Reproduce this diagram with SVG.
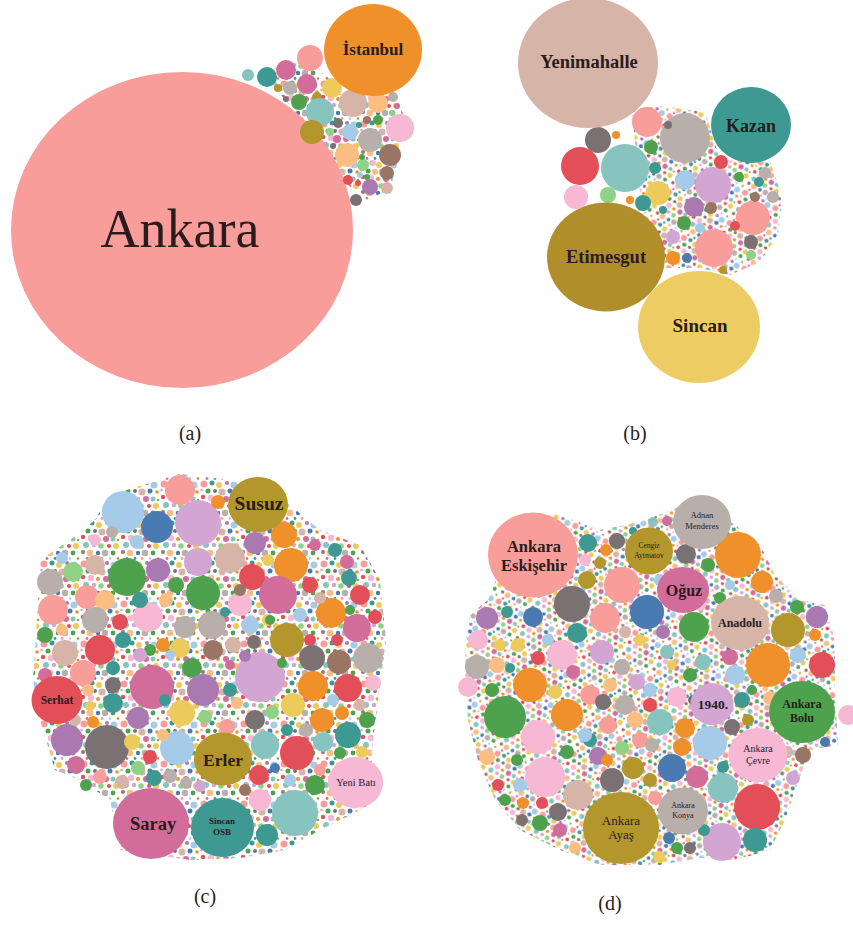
<svg xmlns="http://www.w3.org/2000/svg" width="853" height="925" viewBox="0 0 853 925" font-family="'Liberation Serif', 'Times New Roman', serif">
<style>
text{font-family:"Liberation Serif","Times New Roman",serif;fill:#2a1c1c;text-anchor:middle}
.b{font-weight:bold}
.pk{fill:#f99d9b}.or{fill:#f0902a}.te{fill:#3e9992}.tl{fill:#87c4c0}.ol{fill:#b3972c}.ye{fill:#eccb5c}
.ta{fill:#d6b5a8}.gr{fill:#b8afab}.dg{fill:#7a7272}.re{fill:#e34f59}.li{fill:#d3a5d3}.pu{fill:#ab79b1}
.ma{fill:#d26d9b}.pl{fill:#f7b8d3}.lb{fill:#a6cbe8}.bl{fill:#4a7ab2}.gn{fill:#4fa24d}.lg{fill:#90d285}
.pe{fill:#fcbd82}.br{fill:#9a7563}
.lab{font-size:20px}
</style>
<defs>
<pattern id="dots" width="40" height="40" patternUnits="userSpaceOnUse">
<circle cx="4" cy="4" r="3.5" class="pk"/><circle cx="12" cy="3" r="2.5" class="te"/><circle cx="19" cy="5" r="3" class="ye"/>
<circle cx="27" cy="3" r="2" class="pu"/><circle cx="34" cy="5" r="3.5" class="lb"/><circle cx="8" cy="11" r="2.5" class="gn"/>
<circle cx="15" cy="11" r="2" class="dg"/><circle cx="22" cy="12" r="3.5" class="ta"/><circle cx="30" cy="11" r="2.5" class="bl"/>
<circle cx="37" cy="12" r="1.8" class="or"/><circle cx="3" cy="17" r="2.2" class="re"/><circle cx="11" cy="18" r="3.2" class="pl"/>
<circle cx="18" cy="19" r="2" class="or"/><circle cx="26" cy="19" r="3" class="ma"/><circle cx="33" cy="19" r="2.5" class="tl"/>
<circle cx="6" cy="25" r="3" class="tl"/><circle cx="14" cy="25" r="2.2" class="li"/><circle cx="21" cy="26" r="2.8" class="lg"/>
<circle cx="29" cy="26" r="2" class="re"/><circle cx="36" cy="26" r="3" class="ye"/><circle cx="3" cy="32" r="2" class="br"/>
<circle cx="10" cy="33" r="3.3" class="pe"/><circle cx="18" cy="33" r="2.2" class="bl"/><circle cx="25" cy="33" r="3.2" class="gr"/>
<circle cx="33" cy="33" r="2.4" class="gn"/><circle cx="7" cy="38.5" r="1.4" class="ma"/><circle cx="15" cy="38.5" r="1.4" class="te"/>
<circle cx="22" cy="38.5" r="1.4" class="pk"/><circle cx="30" cy="38.5" r="1.3" class="lb"/><circle cx="38" cy="38.5" r="1.3" class="ol"/>
<circle cx="38" cy="20" r="1.3" class="ol"/><circle cx="1.5" cy="10" r="1.3" class="li"/>
</pattern>
<pattern id="dots2" href="#dots" patternTransform="rotate(27) scale(0.85)"/>
</defs>
<rect width="853" height="925" fill="#ffffff"/>

<!-- Panel (a) -->
<g id="panel-a">
<path d="M262,72 L300,60 L330,78 L342,96 L395,96 L405,118 L398,160 L390,190 L365,200 L345,182 L320,140 L292,108 Z" fill="url(#dots)"/>
<g id="ankara"><ellipse cx="182" cy="230" rx="171" ry="158" class="pk"/><text x="180" y="247" style="font-size:54px">Ankara</text></g>
<g id="bubbles-a">
<circle cx="248" cy="75" r="6" class="tl"/><circle cx="267" cy="77" r="10" class="te"/><circle cx="286" cy="70" r="10" class="ma"/>
<circle cx="310" cy="58" r="13" class="pk"/><circle cx="290" cy="88" r="7" class="gr"/><circle cx="307" cy="84" r="10" class="ma"/>
<circle cx="332" cy="88" r="10" class="ye"/><circle cx="299" cy="102" r="8" class="gn"/><circle cx="317" cy="97" r="5" class="ol"/>
<circle cx="278" cy="88" r="4" class="ol"/><circle cx="286" cy="99" r="3" class="dg"/><circle cx="353" cy="103" r="14" class="ta"/>
<circle cx="378" cy="103" r="10" class="pe"/><circle cx="393" cy="97" r="5" class="gr"/><circle cx="397" cy="106" r="3" class="ma"/>
<circle cx="320" cy="112" r="14" class="tl"/><circle cx="392" cy="113" r="3" class="lg"/><circle cx="367" cy="120" r="4" class="br"/>
<circle cx="378" cy="120" r="5" class="gn"/><circle cx="400" cy="128" r="14" class="pl"/><circle cx="312" cy="132" r="12" class="ol"/>
<circle cx="338" cy="123" r="5" class="dg"/><circle cx="350" cy="132" r="8" class="lb"/><circle cx="359" cy="125" r="3" class="te"/>
<circle cx="330" cy="132" r="4" class="lg"/><circle cx="337" cy="139" r="4" class="ma"/><circle cx="370" cy="140" r="12" class="gr"/>
<circle cx="333" cy="146" r="3" class="dg"/><circle cx="347" cy="155" r="12" class="pe"/><circle cx="390" cy="155" r="11" class="br"/>
<circle cx="363" cy="165" r="6" class="lg"/><circle cx="375" cy="172" r="3" class="pe"/><circle cx="387" cy="173" r="7" class="br"/>
<circle cx="348" cy="180" r="5" class="re"/><circle cx="358" cy="183" r="3" class="re"/><circle cx="370" cy="187" r="8" class="pu"/>
<circle cx="387" cy="188" r="6" class="ta"/><circle cx="356" cy="200" r="6" class="dg"/><circle cx="360" cy="175" r="3" class="lb"/>
<circle cx="367" cy="177" r="3" class="gn"/><circle cx="373" cy="163" r="3" class="pl"/><circle cx="362" cy="157" r="3" class="gn"/>
</g>
<g id="istanbul"><ellipse cx="373" cy="50" rx="49" ry="46" class="or"/><text x="373" y="55" class="b" style="font-size:17px">İstanbul</text></g>
<text x="190" y="440" class="lab">(a)</text>
</g>

<!-- Panel (b) -->
<g id="panel-b">
<path d="M632,110 L660,106 L705,112 L720,160 L770,162 L782,195 L778,235 L760,262 L730,275 L700,268 L665,268 L640,258 L632,225 L640,195 Z" fill="url(#dots2)"/>
<g id="bubbles-b">
<circle cx="647" cy="122" r="15" class="pk"/><circle cx="685" cy="138" r="25" class="gr"/><circle cx="598" cy="140" r="13" class="dg"/>
<circle cx="580" cy="166" r="19" class="re"/><circle cx="625" cy="168" r="24" class="tl"/><circle cx="576" cy="197" r="12" class="pl"/>
<circle cx="608" cy="195" r="8" class="lg"/><circle cx="651" cy="147" r="7" class="gn"/><circle cx="658" cy="193" r="12" class="ye"/>
<circle cx="643" cy="203" r="8" class="te"/><circle cx="630" cy="200" r="4" class="or"/><circle cx="685" cy="180" r="10" class="lb"/>
<circle cx="713" cy="185" r="18" class="li"/><circle cx="721" cy="162" r="7" class="re"/><circle cx="694" cy="207" r="10" class="pu"/>
<circle cx="711" cy="208" r="6" class="br"/><circle cx="753" cy="218" r="17" class="pk"/><circle cx="765" cy="173" r="6" class="gr"/>
<circle cx="773" cy="197" r="6" class="gr"/><circle cx="684" cy="223" r="7" class="gn"/><circle cx="673" cy="237" r="7" class="li"/>
<circle cx="714" cy="248" r="19" class="pk"/><circle cx="751" cy="242" r="7" class="dg"/><circle cx="673" cy="258" r="7" class="or"/>
<circle cx="687" cy="258" r="5" class="bl"/><circle cx="751" cy="255" r="5" class="lg"/><circle cx="723" cy="270" r="4" class="ol"/>
<circle cx="655" cy="168" r="6" class="te"/><circle cx="755" cy="197" r="5" class="br"/><circle cx="739" cy="177" r="5" class="gn"/>
<circle cx="759" cy="182" r="5" class="te"/><circle cx="663" cy="210" r="4" class="te"/><circle cx="668" cy="125" r="4" class="dg"/>
<circle cx="616" cy="135" r="4" class="or"/><circle cx="700" cy="228" r="5" class="lb"/><circle cx="735" cy="226" r="5" class="re"/>
</g>
<g id="yenimahalle"><ellipse cx="588" cy="63" rx="70" ry="65" class="ta"/><text x="589" y="68" class="b" style="font-size:18.5px">Yenimahalle</text></g>
<g id="kazan"><ellipse cx="751" cy="125" rx="40" ry="38" class="te"/><text x="751" y="132" class="b" style="font-size:18px">Kazan</text></g>
<g id="etimesgut"><ellipse cx="606" cy="257" rx="59" ry="54.5" fill="#b08f2b"/><text x="606" y="263" class="b" style="font-size:18.5px">Etimesgut</text></g>
<g id="sincan"><ellipse cx="699" cy="327" rx="61" ry="56" fill="#edcd63"/><text x="700" y="332" class="b" style="font-size:19px">Sincan</text></g>
<text x="635" y="440" class="lab">(b)</text>
</g>

<!-- Panel (c) -->
<g id="panel-c">
<path d="M110,495 L180,474 L230,480 L290,505 L320,530 L360,545 L380,580 L386,640 L378,700 L372,750 L370,805 L320,830 L285,850 L240,858 L190,860 L120,850 L110,800 L80,780 L55,770 L40,720 L33,680 L37,620 L40,560 L70,540 L95,520 Z" fill="url(#dots)"/>
<g id="bubbles-c">
<circle cx="180" cy="490" r="15" class="pk"/><circle cx="123" cy="512" r="21" class="lb"/><circle cx="157" cy="527" r="16" class="bl"/>
<circle cx="198" cy="523" r="23" class="li"/><circle cx="218" cy="502" r="7" class="or"/><circle cx="284" cy="535" r="13" class="or"/>
<circle cx="255" cy="543" r="11" class="pu"/><circle cx="137" cy="542" r="7" class="lb"/><circle cx="198" cy="562" r="14" class="li"/>
<circle cx="230" cy="558" r="15" class="ta"/><circle cx="291" cy="565" r="17" class="or"/><circle cx="50" cy="582" r="13" class="gr"/>
<circle cx="73" cy="572" r="10" class="lg"/><circle cx="95" cy="565" r="10" class="ta"/><circle cx="127" cy="577" r="19" class="gn"/>
<circle cx="158" cy="570" r="12" class="pu"/><circle cx="252" cy="577" r="13" class="re"/><circle cx="203" cy="593" r="17" class="gn"/>
<circle cx="176" cy="585" r="8" class="gn"/><circle cx="278" cy="595" r="19" class="ma"/><circle cx="335" cy="550" r="7" class="te"/>
<circle cx="347" cy="562" r="7" class="ma"/><circle cx="349" cy="578" r="8" class="te"/><circle cx="360" cy="595" r="10" class="re"/>
<circle cx="310" cy="585" r="8" class="re"/><circle cx="53" cy="610" r="15" class="pk"/><circle cx="87" cy="597" r="12" class="pk"/>
<circle cx="105" cy="600" r="10" class="pe"/><circle cx="148" cy="617" r="15" class="pl"/><circle cx="240" cy="604" r="12" class="pl"/>
<circle cx="95" cy="620" r="13" class="gr"/><circle cx="120" cy="622" r="8" class="re"/><circle cx="185" cy="627" r="11" class="gr"/>
<circle cx="212" cy="625" r="14" class="gr"/><circle cx="250" cy="625" r="9" class="lb"/><circle cx="331" cy="613" r="15" class="or"/>
<circle cx="357" cy="628" r="14" class="ma"/><circle cx="375" cy="617" r="7" class="re"/><circle cx="100" cy="650" r="15" class="re"/>
<circle cx="123" cy="640" r="8" class="te"/><circle cx="65" cy="653" r="13" class="ta"/><circle cx="180" cy="648" r="10" class="ye"/>
<circle cx="213" cy="650" r="10" class="br"/><circle cx="233" cy="645" r="8" class="ta"/><circle cx="287" cy="640" r="17" class="ol"/>
<circle cx="254" cy="642" r="7" class="dg"/><circle cx="310" cy="640" r="6" class="re"/><circle cx="337" cy="640" r="6" class="re"/>
<circle cx="312" cy="658" r="13" class="dg"/><circle cx="339" cy="662" r="12" class="br"/><circle cx="368" cy="658" r="15" class="gr"/>
<circle cx="192" cy="668" r="10" class="gn"/><circle cx="113" cy="668" r="7" class="te"/><circle cx="83" cy="673" r="13" class="pk"/>
<circle cx="152" cy="687" r="22" class="ma"/><circle cx="203" cy="690" r="16" class="pu"/><circle cx="260" cy="677" r="25" class="li"/>
<circle cx="313" cy="686" r="15" class="or"/><circle cx="348" cy="688" r="14" class="re"/><circle cx="373" cy="683" r="8" class="pl"/>
<circle cx="113" cy="685" r="8" class="dg"/><circle cx="113" cy="703" r="10" class="te"/><circle cx="138" cy="718" r="11" class="pu"/>
<circle cx="182" cy="713" r="13" class="ye"/><circle cx="255" cy="720" r="10" class="dg"/><circle cx="272" cy="712" r="7" class="lg"/>
<circle cx="293" cy="705" r="12" class="ye"/><circle cx="322" cy="720" r="12" class="or"/><circle cx="342" cy="713" r="7" class="or"/>
<circle cx="348" cy="735" r="13" class="te"/><circle cx="367" cy="720" r="8" class="gn"/><circle cx="67" cy="740" r="16" class="pu"/>
<circle cx="107" cy="747" r="22" class="dg"/><circle cx="76" cy="765" r="9" class="ma"/><circle cx="177" cy="748" r="17" class="lb"/>
<circle cx="265" cy="745" r="14" class="tl"/><circle cx="297" cy="753" r="17" class="re"/><circle cx="323" cy="742" r="10" class="tl"/>
<circle cx="340" cy="753" r="6" class="gn"/><circle cx="259" cy="775" r="10" class="re"/><circle cx="275" cy="768" r="5" class="bl"/>
<circle cx="315" cy="785" r="10" class="gn"/><circle cx="154" cy="778" r="8" class="te"/><circle cx="122" cy="782" r="7" class="ta"/>
<circle cx="260" cy="800" r="11" class="pl"/><circle cx="245" cy="790" r="6" class="br"/><circle cx="295" cy="813" r="23" class="tl"/>
<circle cx="267" cy="835" r="11" class="te"/><circle cx="138" cy="768" r="7" class="lg"/><circle cx="170" cy="776" r="7" class="gr"/>
<circle cx="186" cy="783" r="6" class="gr"/><circle cx="200" cy="786" r="6" class="li"/><circle cx="290" cy="780" r="6" class="lb"/>
<circle cx="93" cy="722" r="6" class="or"/><circle cx="90" cy="706" r="5" class="ye"/><circle cx="163" cy="735" r="6" class="pe"/>
<circle cx="287" cy="730" r="6" class="te"/><circle cx="306" cy="730" r="7" class="gr"/><circle cx="237" cy="703" r="6" class="pe"/>
<circle cx="170" cy="655" r="5" class="lb"/><circle cx="225" cy="612" r="5" class="te"/><circle cx="268" cy="620" r="6" class="ye"/>
<circle cx="150" cy="650" r="6" class="gn"/><circle cx="230" cy="665" r="5" class="ma"/><circle cx="320" cy="598" r="6" class="ta"/>
<circle cx="45" cy="635" r="8" class="gn"/><circle cx="62" cy="630" r="6" class="pe"/><circle cx="88" cy="690" r="6" class="pe"/>
<circle cx="140" cy="600" r="8" class="te"/><circle cx="166" cy="600" r="7" class="pe"/><circle cx="163" cy="645" r="7" class="or"/>
<circle cx="230" cy="690" r="7" class="te"/><circle cx="227" cy="727" r="8" class="pk"/><circle cx="205" cy="717" r="7" class="lg"/>
<circle cx="132" cy="742" r="8" class="ye"/><circle cx="150" cy="757" r="7" class="re"/><circle cx="86" cy="785" r="6" class="gn"/>
<circle cx="100" cy="777" r="7" class="pk"/><circle cx="130" cy="800" r="6" class="lb"/><circle cx="300" cy="615" r="7" class="lb"/>
<circle cx="270" cy="620" r="5" class="gn"/><circle cx="333" cy="700" r="6" class="lb"/><circle cx="360" cy="705" r="6" class="ta"/>
<circle cx="350" cy="610" r="5" class="gn"/><circle cx="75" cy="720" r="6" class="ta"/><circle cx="320" cy="770" r="6" class="pk"/>
<circle cx="362" cy="752" r="6" class="ye"/><circle cx="240" cy="590" r="6" class="br"/><circle cx="268" cy="560" r="6" class="ye"/>
<circle cx="315" cy="545" r="6" class="ma"/><circle cx="112" cy="532" r="6" class="gr"/><circle cx="95" cy="540" r="6" class="pl"/>
<circle cx="62" cy="558" r="6" class="lb"/><circle cx="140" cy="655" r="7" class="li"/><circle cx="245" cy="656" r="6" class="pu"/>
<circle cx="165" cy="700" r="6" class="te"/><circle cx="282" cy="663" r="5" class="gn"/><circle cx="45" cy="675" r="7" class="ma"/>
</g>
<g id="susuz"><ellipse cx="258" cy="504.5" rx="30" ry="27.5" class="ol"/><text x="259" y="510" class="b" style="font-size:19.5px">Susuz</text></g>
<g id="serhat"><ellipse cx="57" cy="700" rx="25.5" ry="24" class="re"/><text x="57" y="704" class="b" style="font-size:11.5px">Serhat</text></g>
<g id="erler"><ellipse cx="223" cy="759" rx="29" ry="26.5" class="ol"/><text x="223" y="766" class="b" style="font-size:17.5px">Erler</text></g>
<g id="yeni-bati"><ellipse cx="355.5" cy="782.5" rx="27.5" ry="25.5" class="pl"/><text x="356" y="786" style="font-size:10.5px">Yeni Batı</text></g>
<g id="saray"><ellipse cx="151" cy="823.5" rx="38" ry="35.5" class="ma"/><text x="153" y="830" class="b" style="font-size:18.5px">Saray</text></g>
<g id="sincan-osb"><ellipse cx="222.5" cy="827.5" rx="31.5" ry="29.5" class="te"/><text x="222" y="824" class="b" style="font-size:9px">Sincan</text><text x="222" y="835" class="b" style="font-size:9px">OSB</text></g>
<text x="205" y="903" class="lab">(c)</text>
</g>

<!-- Panel (d) -->
<g id="panel-d">
<path d="M470,615 L488,600 L500,570 L520,515 L560,515 L600,530 L640,522 L672,510 L700,495 L735,525 L760,545 L775,575 L800,600 L825,605 L835,640 L835,690 L838,745 L810,750 L795,790 L785,820 L770,850 L735,860 L700,858 L660,865 L600,865 L560,850 L520,830 L495,800 L478,760 L468,720 L465,680 L466,640 Z" fill="url(#dots2)"/>
<g id="bubbles-d">
<circle cx="738" cy="555" r="23" class="or"/><circle cx="762" cy="582" r="11" class="or"/><circle cx="686" cy="554" r="10" class="dg"/>
<circle cx="588" cy="543" r="9" class="te"/><circle cx="617" cy="541" r="8" class="dg"/><circle cx="572" cy="604" r="18" class="dg"/>
<circle cx="622" cy="585" r="18" class="pk"/><circle cx="605" cy="618" r="15" class="pk"/><circle cx="647" cy="612" r="17" class="bl"/>
<circle cx="587" cy="580" r="9" class="ol"/><circle cx="694" cy="627" r="15" class="gn"/><circle cx="788" cy="630" r="17" class="ol"/>
<circle cx="817" cy="617" r="11" class="pu"/><circle cx="708" cy="565" r="7" class="gn"/><circle cx="776" cy="596" r="7" class="gr"/>
<circle cx="797" cy="607" r="7" class="gn"/><circle cx="487" cy="618" r="11" class="pu"/><circle cx="533" cy="617" r="10" class="bl"/>
<circle cx="577" cy="633" r="10" class="te"/><circle cx="478" cy="640" r="10" class="pl"/><circle cx="477" cy="667" r="12" class="gr"/>
<circle cx="562" cy="655" r="15" class="pl"/><circle cx="602" cy="652" r="12" class="li"/><circle cx="768" cy="665" r="22" class="or"/>
<circle cx="822" cy="665" r="13" class="re"/><circle cx="653" cy="522" r="5" class="tl"/><circle cx="667" cy="521" r="5" class="ma"/>
<circle cx="633" cy="531" r="4" class="te"/><circle cx="730" cy="585" r="5" class="lb"/><circle cx="507" cy="612" r="6" class="te"/>
<circle cx="600" cy="563" r="6" class="ol"/><circle cx="500" cy="645" r="6" class="ye"/><circle cx="518" cy="645" r="7" class="ye"/>
<circle cx="538" cy="658" r="7" class="re"/><circle cx="667" cy="652" r="7" class="tl"/><circle cx="703" cy="662" r="8" class="tl"/>
<circle cx="730" cy="657" r="8" class="ma"/><circle cx="798" cy="655" r="8" class="lb"/><circle cx="815" cy="635" r="6" class="or"/>
<circle cx="468" cy="687" r="10" class="pl"/><circle cx="573" cy="672" r="7" class="ma"/><circle cx="622" cy="667" r="8" class="gr"/>
<circle cx="735" cy="675" r="10" class="lb"/><circle cx="690" cy="675" r="7" class="gn"/><circle cx="590" cy="695" r="10" class="pk"/>
<circle cx="677" cy="697" r="10" class="pl"/><circle cx="603" cy="702" r="8" class="dg"/><circle cx="625" cy="705" r="10" class="gr"/>
<circle cx="530" cy="685" r="17" class="or"/><circle cx="505" cy="717" r="21" class="gn"/><circle cx="567" cy="715" r="16" class="or"/>
<circle cx="538" cy="737" r="17" class="pl"/><circle cx="848" cy="715" r="10" class="pl"/><circle cx="710" cy="743" r="17" class="lb"/>
<circle cx="660" cy="722" r="13" class="tl"/><circle cx="685" cy="728" r="10" class="or"/><circle cx="682" cy="747" r="9" class="or"/>
<circle cx="732" cy="727" r="8" class="dg"/><circle cx="545" cy="777" r="20" class="pl"/><circle cx="672" cy="768" r="14" class="bl"/>
<circle cx="697" cy="777" r="11" class="ma"/><circle cx="633" cy="768" r="11" class="ol"/><circle cx="612" cy="780" r="12" class="dg"/>
<circle cx="650" cy="780" r="7" class="ol"/><circle cx="723" cy="788" r="15" class="tl"/><circle cx="578" cy="795" r="15" class="ta"/>
<circle cx="757" cy="807" r="23" class="re"/><circle cx="722" cy="842" r="19" class="li"/><circle cx="755" cy="840" r="12" class="te"/>
<circle cx="558" cy="812" r="9" class="dg"/><circle cx="542" cy="803" r="6" class="re"/><circle cx="540" cy="823" r="8" class="gn"/>
<circle cx="560" cy="830" r="7" class="ma"/><circle cx="487" cy="757" r="8" class="pe"/><circle cx="523" cy="803" r="6" class="or"/>
<circle cx="659" cy="857" r="6" class="ye"/><circle cx="517" cy="760" r="6" class="gn"/><circle cx="723" cy="767" r="6" class="te"/>
<circle cx="690" cy="848" r="6" class="dg"/><circle cx="677" cy="848" r="6" class="gn"/><circle cx="669" cy="838" r="6" class="bl"/>
<circle cx="803" cy="755" r="8" class="br"/><circle cx="825" cy="742" r="5" class="bl"/><circle cx="793" cy="778" r="7" class="li"/>
<circle cx="650" cy="690" r="7" class="lb"/><circle cx="640" cy="740" r="8" class="pk"/><circle cx="590" cy="740" r="7" class="te"/>
<circle cx="498" cy="785" r="6" class="re"/><circle cx="510" cy="668" r="5" class="te"/><circle cx="640" cy="640" r="6" class="ye"/>
<circle cx="497" cy="665" r="8" class="pe"/><circle cx="548" cy="640" r="6" class="lb"/><circle cx="492" cy="690" r="7" class="gn"/>
<circle cx="555" cy="692" r="7" class="ye"/><circle cx="610" cy="685" r="7" class="pe"/><circle cx="637" cy="682" r="8" class="li"/>
<circle cx="650" cy="705" r="7" class="re"/><circle cx="635" cy="720" r="8" class="pe"/><circle cx="608" cy="725" r="9" class="pk"/>
<circle cx="585" cy="735" r="7" class="lb"/><circle cx="598" cy="756" r="9" class="pu"/><circle cx="567" cy="752" r="7" class="gn"/>
<circle cx="520" cy="785" r="7" class="lb"/><circle cx="505" cy="800" r="6" class="gn"/><circle cx="522" cy="820" r="6" class="dg"/>
<circle cx="595" cy="845" r="7" class="lb"/><circle cx="575" cy="848" r="6" class="pe"/><circle cx="700" cy="800" r="6" class="pe"/>
<circle cx="704" cy="830" r="6" class="te"/><circle cx="742" cy="700" r="8" class="te"/><circle cx="770" cy="698" r="7" class="pe"/>
<circle cx="748" cy="720" r="6" class="ol"/><circle cx="787" cy="752" r="6" class="ta"/>
<circle cx="652" cy="745" r="7" class="gr"/><circle cx="622" cy="748" r="7" class="lg"/><circle cx="607" cy="760" r="6" class="or"/>
<circle cx="655" cy="798" r="7" class="pk"/><circle cx="693" cy="700" r="5" class="dg"/><circle cx="700" cy="605" r="6" class="pl"/>
<circle cx="720" cy="598" r="6" class="gn"/><circle cx="606" cy="550" r="6" class="or"/><circle cx="660" cy="580" r="6" class="lb"/>
<circle cx="663" cy="632" r="7" class="pu"/><circle cx="625" cy="632" r="6" class="ta"/><circle cx="560" cy="572" r="6" class="pe"/>
<circle cx="585" cy="560" r="6" class="pl"/><circle cx="672" cy="665" r="5" class="ye"/><circle cx="752" cy="690" r="5" class="gn"/>
</g>
<g id="ankara-eskisehir"><ellipse cx="533" cy="555" rx="45" ry="42.5" class="pk"/><text x="534" y="552" class="b" style="font-size:16.5px">Ankara</text><text x="534" y="571" class="b" style="font-size:16.5px">Eskişehir</text></g>
<g id="adnan-menderes"><ellipse cx="702" cy="522" rx="29" ry="27" class="gr"/><text x="702" y="518" style="font-size:8.5px">Adnan</text><text x="702" y="529" style="font-size:8.5px">Menderes</text></g>
<g id="cengiz-aytmatov"><ellipse cx="649" cy="551" rx="24" ry="23.5" class="ol"/><text x="649" y="548" style="font-size:7.5px">Cengiz</text><text x="649" y="558" style="font-size:7.5px">Aytmatov</text></g>
<g id="oguz"><ellipse cx="683" cy="590" rx="26" ry="23" class="ma"/><text x="684" y="596" class="b" style="font-size:16px">Oğuz</text></g>
<g id="anadolu"><ellipse cx="740" cy="623" rx="29" ry="27" class="ta"/><text x="740" y="627" class="b" style="font-size:12px">Anadolu</text></g>
<g id="y1940"><ellipse cx="712" cy="704" rx="21.5" ry="21" class="li"/><text x="713" y="709" class="b" style="font-size:13.5px">1940.</text></g>
<g id="ankara-bolu"><ellipse cx="802" cy="712" rx="33" ry="31" class="gn"/><text x="802" y="708" class="b" style="font-size:12px">Ankara</text><text x="802" y="722" class="b" style="font-size:12px">Bolu</text></g>
<g id="ankara-cevre"><ellipse cx="758" cy="755" rx="29.5" ry="27" class="pl"/><text x="758" y="752" style="font-size:10px">Ankara</text><text x="758" y="764" style="font-size:10px">Çevre</text></g>
<g id="ankara-ayas"><ellipse cx="621" cy="828" rx="38" ry="36" class="ol"/><text x="621" y="825" style="font-size:13px">Ankara</text><text x="621" y="839" style="font-size:13px">Ayaş</text></g>
<g id="ankara-konya"><ellipse cx="683" cy="811" rx="25" ry="23.5" class="gr"/><text x="683" y="808" style="font-size:8px">Ankara</text><text x="683" y="818" style="font-size:8px">Konya</text></g>
<text x="610" y="910" class="lab">(d)</text>
</g>
</svg>
